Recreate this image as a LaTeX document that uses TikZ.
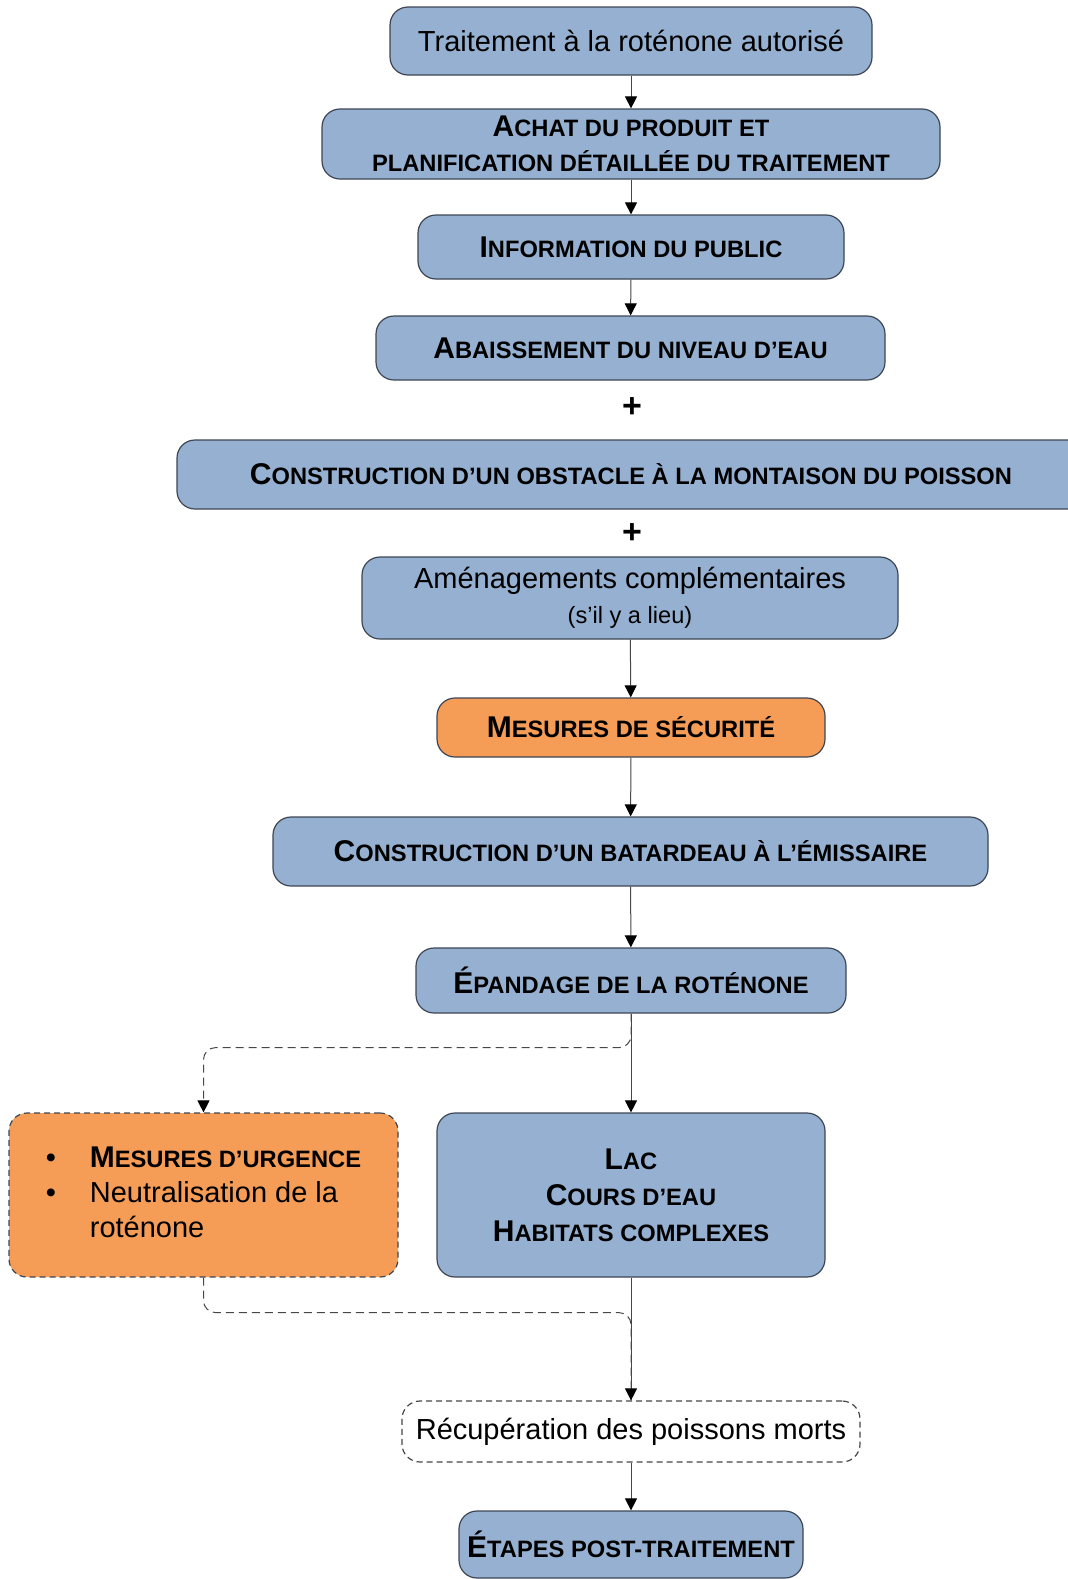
\documentclass[tikz,border=0pt]{standalone}
\usepackage{fontspec}
\setmainfont{Liberation Sans}
\usepackage{graphicx}
\usetikzlibrary{arrows.meta}
\definecolor{boxblue}{RGB}{149,176,208}
\definecolor{boxorange}{RGB}{245,157,86}
\definecolor{boxline}{RGB}{62,70,84}
\definecolor{linkgray}{RGB}{70,70,70}
\newcommand\smc[1]{\scalebox{0.79}{#1}}

\begin{document}
\begin{tikzpicture}[x=0.5pt,y=-0.5pt]
  \tikzstyle{stepbox}  = [rectangle,rounded corners=9pt,draw=boxline,line width=0.6pt,fill=boxblue,text=black,align=center,inner sep=0pt]
  \tikzstyle{alertbox} = [stepbox,fill=boxorange]
  \tikzstyle{optbox}   = [stepbox,fill=white,draw=linkgray,dash pattern=on 3pt off 2pt]
  \tikzstyle{plain}    = [font=\fontsize{14.5}{17.5}\selectfont]
  \tikzstyle{caps}     = [font=\fontsize{15}{17.5}\selectfont\bfseries]
  \tikzstyle{plus}     = [font=\fontsize{17}{17}\selectfont\bfseries,inner sep=0pt]
  \tikzstyle{flow}     = [draw=linkgray,line width=0.5pt,-{Triangle[width=6pt,length=6pt,color=black]}]
  \tikzstyle{aside}    = [draw=linkgray,line width=0.5pt,dash pattern=on 4pt off 2.5pt,rounded corners=6pt]
  \useasboundingbox (0,0) rectangle (1067,1579);
  % main chain of steps
  \path (631,41)    node[stepbox,plain,minimum width=241pt,minimum height=34pt](trait) {Traitement à la roténone autorisé};
  \path (631,144)   node[stepbox,caps,minimum width=309pt,minimum height=35pt](achat) {A\smc{CHAT DU PRODUIT ET}\\\smc{PLANIFICATION DÉTAILLÉE DU TRAITEMENT}};
  \path (631,247)   node[stepbox,caps,minimum width=213pt,minimum height=32pt](info) {I\smc{NFORMATION DU PUBLIC}};
  \path (630.5,348) node[stepbox,caps,minimum width=254.5pt,minimum height=32pt](abais) {A\smc{BAISSEMENT DU NIVEAU D’EAU}};
  \path (632,408)   node[plus](plusa) {+};
  \path (631,474.5) node[stepbox,caps,minimum width=454pt,minimum height=34.5pt](obst) {C\smc{ONSTRUCTION D’UN OBSTACLE À LA MONTAISON DU POISSON}};
  \path (632,534)   node[plus](plusb) {+};
  \path (630,598)   node[stepbox,plain,minimum width=268pt,minimum height=41pt](amen) {Aménagements complémentaires\\{\fontsize{11.8}{18}\selectfont (s’il y a lieu)}};
  \path (631,727.5) node[alertbox,caps,minimum width=194pt,minimum height=29.5pt](secu) {M\smc{ESURES DE SÉCURITÉ}};
  \path (630.5,851.5) node[stepbox,caps,minimum width=357.5pt,minimum height=34.5pt](batar) {C\smc{ONSTRUCTION D’UN BATARDEAU À L’ÉMISSAIRE}};
  \path (631,980.5) node[stepbox,caps,minimum width=215pt,minimum height=32.5pt](epand) {É\smc{PANDAGE DE LA ROTÉNONE}};
  % two branches
  \path (203.5,1195) node[alertbox,plain,dash pattern=on 3pt off 2pt,minimum width=194.5pt,minimum height=82pt](urg)
    {\begin{tabular}{@{}p{22pt}@{}l@{}}
       • & \bfseries\fontsize{15}{17.5}\selectfont M\smc{ESURES D’URGENCE}\\
       • & Neutralisation de la\\
         & roténone
     \end{tabular}};
  \path (631,1195)  node[stepbox,caps,font=\fontsize{15}{18}\selectfont\bfseries,minimum width=194pt,minimum height=82pt](lac) {L\smc{AC}\\C\smc{OURS D’EAU}\\H\smc{ABITATS COMPLEXES}};
  \path (631,1431.5) node[optbox,plain,minimum width=229pt,minimum height=30.5pt](recup) {Récupération des poissons morts};
  \path (631,1544.5) node[stepbox,caps,minimum width=172pt,minimum height=33.5pt](etapes) {É\smc{TAPES POST-TRAITEMENT}};
  % connectors
  \draw[flow] (trait) -- (achat);
  \draw[flow] (achat) -- (info);
  \draw[flow] (info) -- (abais);
  \draw[flow] (amen) -- (secu);
  \draw[flow] (secu) -- (batar);
  \draw[flow] (batar) -- (epand);
  \draw[flow] (epand) -- (lac);
  \draw[aside,-{Triangle[width=6pt,length=6pt,color=black]}] (epand.south) -- ++(0,34) -| (urg.north);
  \draw[aside] (urg.south) -- ++(0,35) -| (recup.north);
  \draw[flow] (lac) -- (recup);
  \draw[flow] (recup) -- (etapes);
\end{tikzpicture}
\end{document}
